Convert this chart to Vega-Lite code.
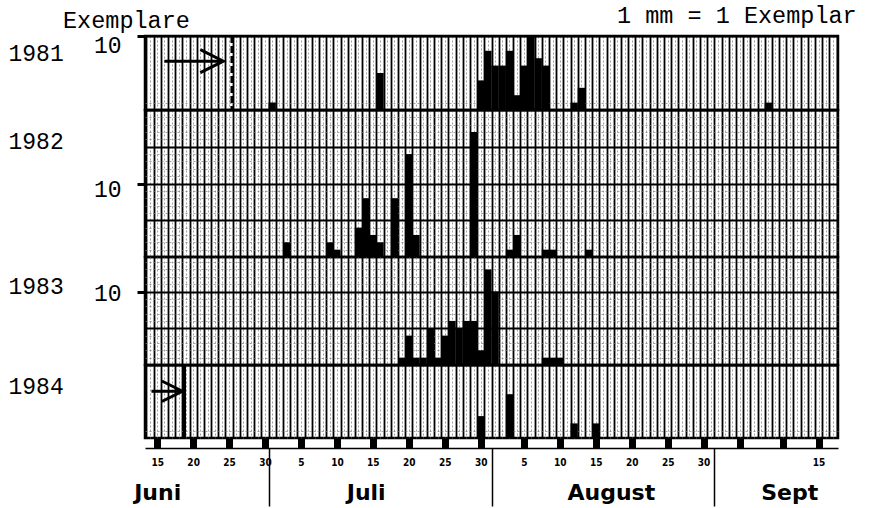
{
  "$schema": "https://vega.github.io/schema/vega-lite/v6.json",
  "padding": {"left": 6, "top": 2, "right": 0, "bottom": 0},
  "background": "white",
  "spacing": 0,
  "bounds": "flush",
  "config": {
    "view": {"stroke": "black", "strokeWidth": 2.5},
    "font": "Liberation Mono",
    "axis": {"domain": false, "labelOverlap": false, "labelBound": false, "labelFlush": false, "labelColor": "black", "titleColor": "black"}
  },
  "data": {
    "values": [
      {"year": 1981, "day": 31, "n": 1}, {"year": 1981, "day": 46, "n": 5}, {"year": 1981, "day": 60, "n": 4}, {"year": 1981, "day": 61, "n": 8},
      {"year": 1981, "day": 62, "n": 6}, {"year": 1981, "day": 63, "n": 6}, {"year": 1981, "day": 64, "n": 8}, {"year": 1981, "day": 65, "n": 2},
      {"year": 1981, "day": 66, "n": 6}, {"year": 1981, "day": 67, "n": 10}, {"year": 1981, "day": 68, "n": 7}, {"year": 1981, "day": 69, "n": 6},
      {"year": 1981, "day": 73, "n": 1}, {"year": 1981, "day": 74, "n": 3}, {"year": 1981, "day": 100, "n": 1},
      {"year": 1982, "day": 33, "n": 2}, {"year": 1982, "day": 39, "n": 2}, {"year": 1982, "day": 40, "n": 1}, {"year": 1982, "day": 43, "n": 4},
      {"year": 1982, "day": 44, "n": 8}, {"year": 1982, "day": 45, "n": 3}, {"year": 1982, "day": 46, "n": 2}, {"year": 1982, "day": 48, "n": 8},
      {"year": 1982, "day": 50, "n": 14}, {"year": 1982, "day": 51, "n": 3}, {"year": 1982, "day": 59, "n": 17}, {"year": 1982, "day": 64, "n": 1},
      {"year": 1982, "day": 65, "n": 3}, {"year": 1982, "day": 69, "n": 1}, {"year": 1982, "day": 70, "n": 1}, {"year": 1982, "day": 75, "n": 1},
      {"year": 1983, "day": 49, "n": 1}, {"year": 1983, "day": 50, "n": 4}, {"year": 1983, "day": 51, "n": 1}, {"year": 1983, "day": 52, "n": 1},
      {"year": 1983, "day": 53, "n": 5}, {"year": 1983, "day": 54, "n": 1}, {"year": 1983, "day": 55, "n": 4}, {"year": 1983, "day": 56, "n": 6},
      {"year": 1983, "day": 57, "n": 5}, {"year": 1983, "day": 58, "n": 6}, {"year": 1983, "day": 59, "n": 6}, {"year": 1983, "day": 60, "n": 2},
      {"year": 1983, "day": 61, "n": 13}, {"year": 1983, "day": 62, "n": 10}, {"year": 1983, "day": 69, "n": 1}, {"year": 1983, "day": 70, "n": 1},
      {"year": 1983, "day": 71, "n": 1},
      {"year": 1984, "day": 60, "n": 3}, {"year": 1984, "day": 64, "n": 6}, {"year": 1984, "day": 73, "n": 2}, {"year": 1984, "day": 76, "n": 2}
    ]
  },
  "vconcat": [
    {
      "width": 693, "height": 74,
      "layer": [
        {
          "transform": [{"filter": "datum.year == 1981"}],
          "mark": {"type": "bar", "color": "black", "width": 7.3, "orient": "vertical"},
          "encoding": {
            "x": {"field": "day", "type": "quantitative", "scale": {"domain": [14, 109], "nice": false, "zero": false},
              "axis": {"orient": "bottom", "title": null, "labels": false, "ticks": false, "tickCount": 190, "grid": true,
                "gridColor": {"condition": {"test": "datum.value % 1 != 0", "value": "#000"}, "value": "#777"},
                "gridWidth": {"condition": {"test": "datum.value % 1 != 0", "value": 1.8}, "value": 0.7},
                "gridDash": {"condition": {"test": "datum.value % 1 != 0", "value": []}, "value": [2, 2]}}},
            "y": {"field": "n", "type": "quantitative", "scale": {"domain": [0, 10], "nice": false},
              "axis": {"title": "1981", "titleX": -137, "titleY": 17, "titleAngle": 0, "titleAlign": "left", "titleBaseline": "middle",
                "titleFont": "Liberation Mono", "titleFontSize": 23, "titleFontWeight": "normal",
                "values": [1, 2, 3, 4, 5, 6, 7, 8, 9, 10], "grid": true,
                "gridColor": {"condition": {"test": "datum.value % 5 == 0", "value": "#000"}, "value": "#777"},
                "gridWidth": {"condition": {"test": "datum.value % 5 == 0", "value": 2}, "value": 0.7},
                "gridDash": {"condition": {"test": "datum.value % 5 == 0", "value": []}, "value": [2, 2]},
                "labelExpr": "datum.value == 10 ? '10' : ''", "labelFont": "Liberation Mono", "labelFontSize": 23,
                "labelPadding": 16, "labelOffset": 9, "tickSize": 8, "tickWidth": 3, "tickColor": "black",
                "tickOpacity": {"condition": {"test": "datum.value == 10", "value": 1}, "value": 0}}}
          }
        },
        {
          "data": {"values": [{}]},
          "mark": {"type": "rule", "color": "black", "strokeWidth": 3, "strokeDash": [7, 3]},
          "encoding": {"x": {"datum": 25.4}}
        },
        {
          "data": {"values": [{}]},
          "mark": {"type": "rule", "color": "black", "strokeWidth": 3},
          "encoding": {"x": {"datum": 16.0}, "x2": {"datum": 23.9}, "y": {"datum": 6.6}}
        },
        {
          "data": {"values": [{}]},
          "mark": {"type": "point", "shape": "M-2,-1L0,0L-2,1", "size": 529, "filled": false, "color": "black", "strokeWidth": 3, "opacity": 1},
          "encoding": {"x": {"datum": 24.2}, "y": {"datum": 6.6}}
        },
        {
          "data": {"values": [{}]},
          "mark": {"type": "text", "text": "Exemplare", "font": "Liberation Mono", "fontSize": 23.5, "align": "left", "baseline": "middle", "color": "black"},
          "encoding": {"x": {"datum": 1.9}, "y": {"datum": 12.0}}
        },
        {
          "data": {"values": [{}]},
          "mark": {"type": "text", "text": "1 mm = 1 Exemplar", "font": "Liberation Mono", "fontSize": 23.5, "align": "right", "baseline": "middle", "color": "black"},
          "encoding": {"x": {"datum": 112.3}, "y": {"datum": 12.7}}
        }
      ]
    },
    {
      "width": 693, "height": 147,
      "transform": [{"filter": "datum.year == 1982"}],
      "mark": {"type": "bar", "color": "black", "width": 7.3, "orient": "vertical"},
      "encoding": {
        "x": {"field": "day", "type": "quantitative", "scale": {"domain": [14, 109], "nice": false, "zero": false},
          "axis": {"orient": "bottom", "title": null, "labels": false, "ticks": false, "tickCount": 190, "grid": true,
            "gridColor": {"condition": {"test": "datum.value % 1 != 0", "value": "#000"}, "value": "#777"},
            "gridWidth": {"condition": {"test": "datum.value % 1 != 0", "value": 1.8}, "value": 0.7},
            "gridDash": {"condition": {"test": "datum.value % 1 != 0", "value": []}, "value": [2, 2]}}},
        "y": {"field": "n", "type": "quantitative", "scale": {"domain": [0, 20], "nice": false},
          "axis": {"title": "1982", "titleX": -137, "titleY": 31, "titleAngle": 0, "titleAlign": "left", "titleBaseline": "middle",
            "titleFont": "Liberation Mono", "titleFontSize": 23, "titleFontWeight": "normal",
            "values": [1, 2, 3, 4, 5, 6, 7, 8, 9, 10, 11, 12, 13, 14, 15, 16, 17, 18, 19, 20], "grid": true,
            "gridColor": {"condition": {"test": "datum.value % 5 == 0", "value": "#000"}, "value": "#777"},
            "gridWidth": {"condition": {"test": "datum.value % 5 == 0", "value": 2}, "value": 0.7},
            "gridDash": {"condition": {"test": "datum.value % 5 == 0", "value": []}, "value": [2, 2]},
            "labelExpr": "datum.value == 10 ? '10' : ''", "labelFont": "Liberation Mono", "labelFontSize": 23,
            "labelPadding": 16, "labelOffset": 6, "tickSize": 8, "tickWidth": 3, "tickColor": "black",
            "tickOpacity": {"condition": {"test": "datum.value == 10", "value": 1}, "value": 0}}}
      }
    },
    {
      "width": 693, "height": 108,
      "transform": [{"filter": "datum.year == 1983"}],
      "mark": {"type": "bar", "color": "black", "width": 7.3, "orient": "vertical"},
      "encoding": {
        "x": {"field": "day", "type": "quantitative", "scale": {"domain": [14, 109], "nice": false, "zero": false},
          "axis": {"orient": "bottom", "title": null, "labels": false, "ticks": false, "tickCount": 190, "grid": true,
            "gridColor": {"condition": {"test": "datum.value % 1 != 0", "value": "#000"}, "value": "#777"},
            "gridWidth": {"condition": {"test": "datum.value % 1 != 0", "value": 1.8}, "value": 0.7},
            "gridDash": {"condition": {"test": "datum.value % 1 != 0", "value": []}, "value": [2, 2]}}},
        "y": {"field": "n", "type": "quantitative", "scale": {"domain": [0, 14.7], "nice": false},
          "axis": {"title": "1983", "titleX": -137, "titleY": 29, "titleAngle": 0, "titleAlign": "left", "titleBaseline": "middle",
            "titleFont": "Liberation Mono", "titleFontSize": 23, "titleFontWeight": "normal",
            "values": [1, 2, 3, 4, 5, 6, 7, 8, 9, 10, 11, 12, 13, 14], "grid": true,
            "gridColor": {"condition": {"test": "datum.value % 5 == 0", "value": "#000"}, "value": "#777"},
            "gridWidth": {"condition": {"test": "datum.value % 5 == 0", "value": 2}, "value": 0.7},
            "gridDash": {"condition": {"test": "datum.value % 5 == 0", "value": []}, "value": [2, 2]},
            "labelExpr": "datum.value == 10 ? '10' : ''", "labelFont": "Liberation Mono", "labelFontSize": 23,
            "labelPadding": 16, "labelOffset": 2, "tickSize": 8, "tickWidth": 3, "tickColor": "black",
            "tickOpacity": {"condition": {"test": "datum.value == 10", "value": 1}, "value": 0}}}
      }
    },
    {
      "width": 693, "height": 73,
      "resolve": {"axis": {"x": "independent"}},
      "layer": [
        {
          "transform": [{"filter": "datum.year == 1984"}],
          "mark": {"type": "bar", "color": "black", "width": 7.3, "orient": "vertical"},
          "encoding": {
            "x": {"field": "day", "type": "quantitative", "scale": {"domain": [14, 109], "nice": false, "zero": false},
              "axis": {"orient": "bottom", "title": null, "tickCount": 190, "grid": true,
                "gridColor": {"condition": {"test": "datum.value % 1 != 0", "value": "#000"}, "value": "#777"},
                "gridWidth": {"condition": {"test": "datum.value % 1 != 0", "value": 1.8}, "value": 0.7},
                "gridDash": {"condition": {"test": "datum.value % 1 != 0", "value": []}, "value": [2, 2]},
                "ticks": true, "tickSize": 10, "tickWidth": 7, "tickColor": "black",
                "tickOpacity": {"condition": {"test": "indexof([15,20,25,30,35,40,45,50,55,60,66,71,76,81,86,91,96,102,107], datum.value) >= 0", "value": 1}, "value": 0},
                "labelExpr": "indexof([15,20,25,30,35,40,45,50,55,60,66,71,76,81,86,91,107], datum.value) >= 0 ? toString(datum.value <= 30 ? datum.value : datum.value <= 61 ? datum.value - 30 : datum.value <= 92 ? datum.value - 61 : datum.value - 92) : ''",
                "labelFont": "Liberation Sans Narrow, DejaVu Sans Condensed, sans-serif", "labelFontSize": 10, "labelFontWeight": "bold",
                "labelPadding": 14, "labelBaseline": "middle"}},
            "y": {"field": "n", "type": "quantitative", "scale": {"domain": [0, 10], "nice": false},
              "axis": {"title": "1984", "titleX": -137, "titleY": 21, "titleAngle": 0, "titleAlign": "left", "titleBaseline": "middle",
                "titleFont": "Liberation Mono", "titleFontSize": 23, "titleFontWeight": "normal",
                "values": [1, 2, 3, 4, 5, 6, 7, 8, 9, 10], "grid": true,
                "gridColor": {"condition": {"test": "datum.value % 5 == 0", "value": "#000"}, "value": "#777"},
                "gridWidth": {"condition": {"test": "datum.value % 5 == 0", "value": 2}, "value": 0.7},
                "gridDash": {"condition": {"test": "datum.value % 5 == 0", "value": []}, "value": [2, 2]},
                "labels": false, "ticks": false}}
          }
        },
        {
          "transform": [{"filter": "datum.year == 1984"}],
          "mark": {"type": "rule", "opacity": 0},
          "encoding": {
            "x": {"field": "day", "type": "quantitative",
              "axis": {"orient": "bottom", "offset": 10, "title": null, "grid": false,
                "values": [15.0, 30.5, 44.0, 61.5, 78.1, 92.5, 102.9],
                "domain": true, "domainColor": "black", "domainWidth": 1.5,
                "ticks": true, "tickSize": 58, "tickWidth": 1.5, "tickColor": "black",
                "tickOpacity": {"condition": {"test": "datum.value % 1 == 0.5", "value": 1}, "value": 0},
                "labelExpr": "datum.value == 15 ? 'Juni' : datum.value == 44 ? 'Juli' : datum.value == 78.1 ? 'August' : datum.value == 102.9 ? 'Sept' : ''",
                "labelFont": "DejaVu Sans", "labelFontWeight": "bold", "labelFontSize": 22,
                "labelPadding": -14, "labelBaseline": "middle"}}
          }
        },
        {
          "data": {"values": [{}]},
          "mark": {"type": "rule", "color": "black", "strokeWidth": 3},
          "encoding": {"x": {"datum": 18.8, "axis": null}}
        },
        {
          "data": {"values": [{}]},
          "mark": {"type": "rule", "color": "black", "strokeWidth": 3},
          "encoding": {"x": {"datum": 14.2, "axis": null}, "x2": {"datum": 18.2}, "y": {"datum": 6.4}}
        },
        {
          "data": {"values": [{}]},
          "mark": {"type": "point", "shape": "M-2,-1L0,0L-2,1", "size": 420, "filled": false, "color": "black", "strokeWidth": 3, "opacity": 1},
          "encoding": {"x": {"datum": 18.5, "axis": null}, "y": {"datum": 6.4}}
        }
      ]
    }
  ]
}
